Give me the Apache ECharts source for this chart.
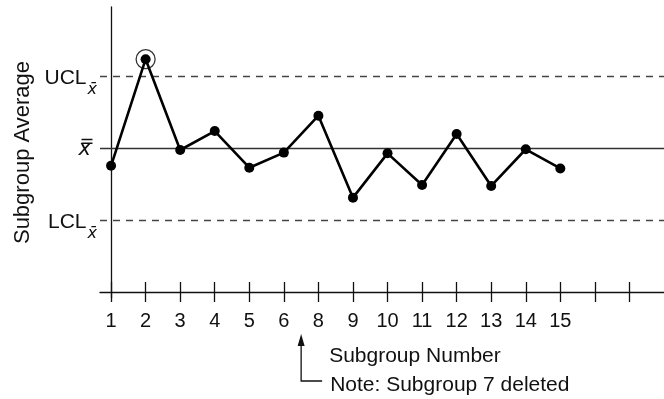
<!DOCTYPE html>
<html><head><meta charset="utf-8">
<script src="https://cdn.jsdelivr.net/npm/echarts@6/dist/echarts.min.js"></script>
<style>html,body{margin:0;padding:0;background:#fff}#c{width:664px;height:399px}</style>
</head><body><div id="c"></div>
<script>
// ---- data ----
const categories = ['1','2','3','4','5','6','8','9','10','11','12','13','14','15'];
const subgroupAverages = [5.27, 9.72, 5.93, 6.72, 5.19, 5.82, 7.36, 3.94, 5.79, 4.47, 6.60, 4.43, 5.96, 5.16];
const outOfControl = ['2'];
const centerLine = 6;
const ucl = 9;
const lcl = 3;
const yTickValues = [lcl, centerLine, ucl];
const yTickLabels = ['LCL', 'x\u033F', 'UCL'];
const xTickCount = 16;
const xAxisTitle = 'Subgroup Number';
const yAxisTitle = 'Subgroup Average';
const noteText = 'Note: Subgroup 7 deleted';
const deletedBetween = ['6', '8'];

// ---- chart ----
const FONT = "'Liberation Sans', Arial, sans-serif";
const chart = echarts.init(document.getElementById('c'), null, {renderer: 'canvas'});
const points = categories.map((c, i) => [i, subgroupAverages[i]]);
const ringed = outOfControl.map(c => { const i = categories.indexOf(c); return [i, subgroupAverages[i]]; });
const tickVals = Array.from({length: xTickCount}, (_, i) => i);
const labelVals = categories.map((c, i) => i);

const option = {
  animation: false,
  backgroundColor: '#fff',
  grid: {left: 100, right: 0, top: 7, bottom: 101, containLabel: false, outerBoundsMode: 'none'},
  xAxis: [{
    type: 'value', min: -0.32, max: 16,
    axisLine: {show: true, onZero: true, lineStyle: {color: '#111', width: 1.3}},
    axisTick: {show: true, inside: false, length: 10, customValues: tickVals, lineStyle: {color: '#111', width: 1.3}},
    axisLabel: {show: true, customValues: labelVals, margin: 13, fontSize: 20, color: '#111', fontFamily: FONT,
      formatter: v => categories[Math.round(v)] || ''},
    splitLine: {show: false}
  }, {
    type: 'value', min: -0.32, max: 16, position: 'bottom', offset: -6,
    axisLine: {show: false, onZero: false},
    axisTick: {show: true, inside: true, length: 10, customValues: tickVals, lineStyle: {color: '#111', width: 1.3}},
    axisLabel: {show: false},
    splitLine: {show: false}
  }],
  yAxis: [{
    type: 'value', min: -0.25, max: 11.9,
    name: yAxisTitle, nameLocation: 'middle', nameGap: 64, nameRotate: 90,
    nameTextStyle: {fontSize: 22, color: '#111', fontFamily: FONT},
    axisLine: {show: true, onZero: true, lineStyle: {color: '#111', width: 1.3}},
    axisTick: {show: false},
    axisLabel: {show: true, customValues: yTickValues, margin: 3,
      formatter: v => {
        const i = yTickValues.indexOf(v);
        if (v === centerLine) return '{c|' + yTickLabels[i] + '}';
        return '{m|' + yTickLabels[i] + '}{s|x\u0304}';
      },
      rich: {
        m: {fontSize: 21, color: '#111', fontFamily: FONT, lineHeight: 46, padding: [4, 0, 0, 0]},
        s: {fontSize: 16, color: '#111', fontFamily: "'DejaVu Sans', sans-serif", fontStyle: 'italic', lineHeight: 14, padding: [27, 0, 0, 1]},
        c: {fontSize: 21, color: '#111', fontFamily: "'DejaVu Sans', sans-serif", fontStyle: 'italic', lineHeight: 24, padding: [2, 6, 0, 0]}
      }
    },
    splitLine: {show: false}
  }],
  series: [{
    type: 'line',
    data: points,
    symbol: 'circle', symbolSize: 10,
    lineStyle: {color: '#000', width: 2.6},
    itemStyle: {color: '#000'},
    z: 5,
    markLine: {
      silent: true, symbol: 'none', label: {show: false},
      data: [
        {yAxis: ucl, lineStyle: {type: [7, 6], color: '#444', width: 1.3}},
        {yAxis: centerLine, lineStyle: {type: 'solid', color: '#333', width: 1.3}},
        {yAxis: lcl, lineStyle: {type: [7, 6], color: '#444', width: 1.3}}
      ]
    }
  }, {
    type: 'scatter',
    data: ringed,
    symbol: 'circle', symbolSize: 19,
    itemStyle: {color: 'rgba(0,0,0,0)', borderColor: '#000', borderWidth: 1.3},
    z: 6
  }]
};
chart.setOption(option);

const ax = chart.convertToPixel({xAxisIndex: 0}, (categories.indexOf(deletedBetween[0]) + categories.indexOf(deletedBetween[1])) / 2);
chart.setOption({
  graphic: [
    {type: 'polyline', shape: {points: [[ax, 342], [ax, 381], [ax + 21, 381]]}, style: {stroke: '#111', lineWidth: 1.3, fill: null}},
    {type: 'polygon', shape: {points: [[ax, 334], [ax - 3.5, 346], [ax + 3.5, 346]]}, style: {fill: '#111'}},
    {type: 'text', x: ax + 28, y: 356, style: {text: xAxisTitle, fontSize: 21, fontFamily: FONT, fill: '#111', verticalAlign: 'middle'}},
    {type: 'text', x: ax + 29, y: 385, style: {text: noteText, fontSize: 21, fontFamily: FONT, fill: '#111', verticalAlign: 'middle'}}
  ]
});
</script>
</body></html>
